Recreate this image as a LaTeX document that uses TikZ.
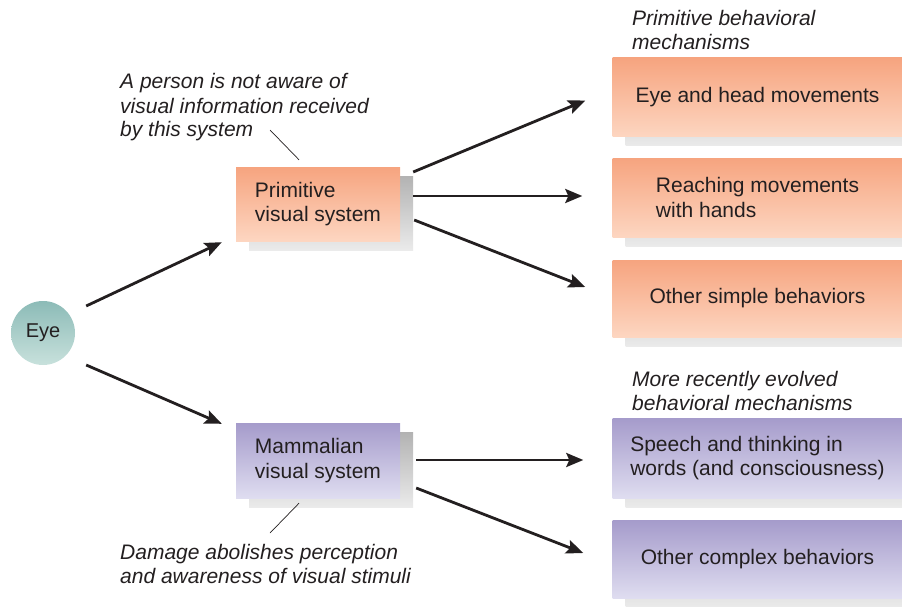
\documentclass[tikz,border=0pt]{standalone}
\usepackage{fontspec}
\setmainfont{Liberation Sans}
\usetikzlibrary{arrows.meta,shadows}

\definecolor{textgray}{HTML}{231F20}
\definecolor{primtop}{HTML}{F6A47F}
\definecolor{primbot}{HTML}{FDD6C1}
\definecolor{mammtop}{HTML}{A59BCB}
\definecolor{mammbot}{HTML}{DFDDF0}
\definecolor{eyetop}{HTML}{8CBBB7}
\definecolor{eyebot}{HTML}{C8E1DC}

\begin{document}
\begin{tikzpicture}[
        x=1pt, y=-1pt,
        font=\fontsize{21}{24.5}\selectfont,
        every node/.style={text=textgray},
        box/.style={rectangle, inner sep=0pt, align=left,
            general shadow={shadow xshift=13pt, shadow yshift=-9pt,
                top color=black!30, bottom color=black!8}},
        primbox/.style={box, top color=primtop, bottom color=primbot},
        mammbox/.style={box, top color=mammtop, bottom color=mammbot},
        note/.style={inner sep=0pt, align=left, anchor=base west,
            font=\fontsize{21}{24}\selectfont\itshape},
        arrow/.style={line width=2.8pt, draw=textgray,
            -{Stealth[length=17pt,width=14pt,inset=3pt]}},
        pointer/.style={line width=0.7pt, draw=textgray}
    ]
    \useasboundingbox (0,0) rectangle (902,607);

    % eye and the two visual systems
    \node[circle, minimum size=64pt, inner sep=0pt, top color=eyetop, bottom color=eyebot,
        font=\fontsize{20}{24}\selectfont] (eye) at (43,333) {Eye};
    \node[primbox, minimum width=164pt, minimum height=74pt] (prim) at (318,204)
        {Primitive\\visual system};
    \node[mammbox, minimum width=164pt, minimum height=75pt] (mamm) at (318,460.5)
        {Mammalian\\visual system};

    % behaviours
    \node[primbox, minimum width=290pt, minimum height=79pt] (eyehead) at (757.5,97.5)
        {Eye and head movements};
    \node[primbox, minimum width=290pt, minimum height=79pt] (reach) at (757.5,197.5)
        {Reaching movements\\with hands};
    \node[primbox, minimum width=290pt, minimum height=77pt] (simple) at (757.5,298.5)
        {Other simple behaviors};
    \node[mammbox, minimum width=290pt, minimum height=80pt] (speech) at (757.5,458)
        {Speech and thinking in\\words (and consciousness)};
    \node[mammbox, minimum width=290pt, minimum height=78pt] (complex) at (757.5,559)
        {Other complex behaviors};

    % notes (anchored at the baseline of their last line)
    \node[note] (noteprim) at (120,137)
        {A person is not aware of\\visual information received\\by this system};
    \node[note] (notemamm) at (120,583)
        {Damage abolishes perception\\and awareness of visual stimuli};
    \node[note] (headprim) at (632,50) {Primitive behavioral\\mechanisms};
    \node[note] (headmamm) at (632,410) {More recently evolved\\behavioral mechanisms};

    \coordinate (tipprim) at (270,130);
    \coordinate (tipmamm) at (270,533);
    \draw[pointer] (tipprim) -- ([shift={(-19pt,7pt)}]prim.north);
    \draw[pointer] ([shift={(-19pt,-5pt)}]mamm.south) -- (tipmamm);

    % arrows
    \draw[arrow] ([shift={(11pt,27pt)}]eye.east) -- ([shift={(-14pt,-1pt)}]prim.south west);
    \draw[arrow] ([shift={(11pt,-32pt)}]eye.east) -- ([shift={(-14pt,-1pt)}]mamm.north west);
    \draw[arrow] ([shift={(13pt,32pt)}]prim.east) -- ([shift={(-27pt,-3pt)}]eyehead.west);
    \draw[arrow] ([shift={(13pt,8pt)}]prim.east) -- ([shift={(-30pt,1.5pt)}]reach.west);
    \draw[arrow] ([shift={(14pt,-16pt)}]prim.east) -- ([shift={(-27pt,11.5pt)}]simple.west);
    \draw[arrow] ([shift={(16pt,0.5pt)}]mamm.east) -- ([shift={(-29pt,-2pt)}]speech.west);
    \draw[arrow] ([shift={(16pt,-27.5pt)}]mamm.east) -- ([shift={(-29pt,6pt)}]complex.west);
\end{tikzpicture}
\end{document}
